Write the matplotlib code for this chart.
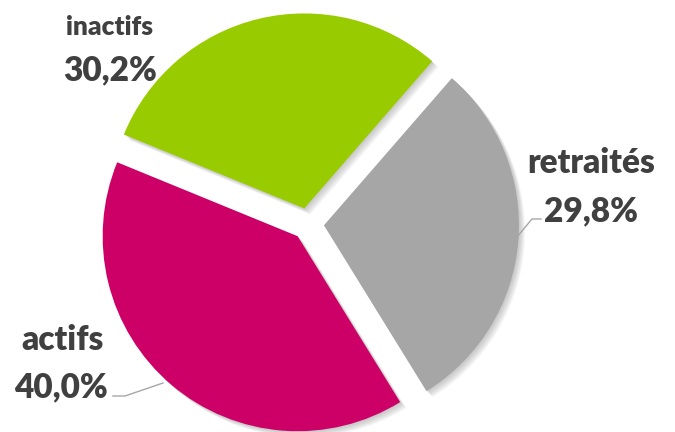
import matplotlib
matplotlib.use('Agg')
import matplotlib.pyplot as plt

labels = ['inactifs', 'actifs', 'retraités']
values = [30.2, 40.0, 29.8]
pct_labels = ['30,2%', '40,0%', '29,8%']
colors = ['#99CC00', '#CC0066', '#A6A6A6']

W, H = 675, 432
cx, cy = 308, H - 224
r = 195
# explode is in data units (pixels here)
explode = [16, 16, 16]

fig = plt.figure(figsize=(6.75, 4.32), dpi=100)
ax = fig.add_axes([0, 0, 1, 1])

# soft shadow: a few faint offset copies
for k in range(1, 7):
    ax.pie(values, colors=['#707070'] * 3, startangle=49, explode=explode,
           radius=r, center=(cx + k * 1.0, cy - k * 1.0),
           wedgeprops=dict(alpha=0.07, linewidth=0))

ax.pie(values, colors=colors, startangle=49, explode=explode,
       radius=r, center=(cx, cy),
       wedgeprops=dict(linewidth=0))

ax.set_xlim(0, W)
ax.set_ylim(0, H)
ax.set_aspect('equal')
ax.axis('off')

txt = dict(color='#404040', fontweight='heavy', family=['Lato', 'DejaVu Sans'],
           ha='left', va='baseline')

# name and percentage positions in pixels (x, baseline y)
ax.text(66, H - 35, labels[0], fontsize=19, **txt)
ax.text(63, H - 80, pct_labels[0], fontsize=24, **txt)
ax.text(21, H - 350, labels[1], fontsize=24, **txt)
ax.text(14, H - 397, pct_labels[1], fontsize=24, **txt)
ax.text(527, H - 173, labels[2], fontsize=24, **txt)
ax.text(544, H - 221, pct_labels[2], fontsize=24, **txt)

# leader lines
ax.plot([113, 125, 163], [H - 396, H - 396, H - 383], color='#A6A6A6', lw=1)
ax.plot([541, 532, 512], [H - 219, H - 219, H - 243], color='#A6A6A6', lw=1)

fig.savefig('out.png', dpi=100)
